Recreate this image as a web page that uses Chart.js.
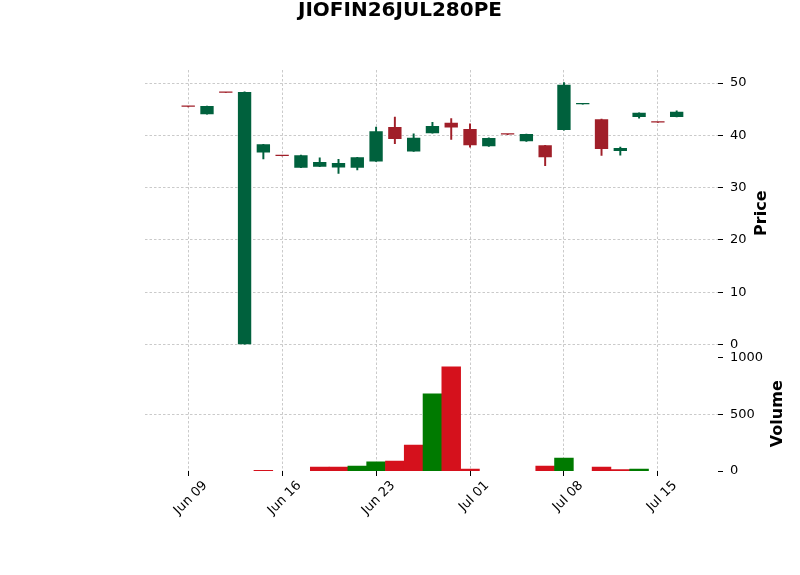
<!DOCTYPE html>
<html>
<head>
<meta charset="utf-8">
<script src="https://cdn.jsdelivr.net/npm/chart.js@4"></script>
<style>
  html, body { margin: 0; padding: 0; background: #fff; }
</style>
</head>
<body>
<canvas id="chart" width="800" height="575"></canvas>
<script>
const titleText = 'JIOFIN26JUL280PE';

// one row per trading day
const dates = ['Jun 09', 'Jun 10', 'Jun 11', 'Jun 12', 'Jun 13',
               'Jun 16', 'Jun 17', 'Jun 18', 'Jun 19', 'Jun 20',
               'Jun 23', 'Jun 24', 'Jun 25', 'Jun 26', 'Jun 27',
               'Jul 01', 'Jul 02', 'Jul 03', 'Jul 04', 'Jul 07',
               'Jul 08', 'Jul 09', 'Jul 10', 'Jul 11', 'Jul 14',
               'Jul 15', 'Jul 16'];
const opens  = [45.5, 44.05, 48.2, 0.05, 36.7, 36.1, 33.8, 34.0, 33.85, 33.8,
                35.0, 41.6, 36.9, 40.4, 42.4, 41.2, 37.9, 40.2, 38.85, 38.1,
                41.0, 45.95, 43.1, 37.0, 43.5, 42.5, 43.5];
const highs  = [45.5, 45.6, 48.2, 48.3, 38.3, 36.1, 36.2, 35.7, 35.4, 35.8,
                41.6, 43.5, 40.3, 42.5, 43.2, 42.2, 39.5, 40.2, 40.25, 38.1,
                50.1, 46.05, 43.1, 37.75, 44.3, 42.5, 44.7];
const lows   = [45.45, 44.05, 48.15, 0.05, 35.5, 36.05, 33.8, 34.0, 32.7, 33.4,
                35.0, 38.4, 36.9, 40.4, 39.2, 37.75, 37.9, 40.15, 38.85, 34.2,
                41.0, 45.95, 36.15, 36.2, 43.3, 42.45, 43.5];
const closes = [45.45, 45.6, 48.15, 48.3, 38.3, 36.05, 36.2, 34.9, 34.7, 35.8,
                40.8, 39.3, 39.55, 41.8, 41.5, 38.1, 39.5, 40.15, 40.25, 35.8,
                49.7, 46.05, 37.4, 37.56, 44.3, 42.45, 44.5];
const volumes = [0, 0, 0, 0, 6, 0, 0, 35, 35, 44,
                 80, 88, 230, 681, 920, 18, 0, 0, 0, 44,
                 115, 0, 35, 12, 18, 0, 0];
// 1 = up volume bar, -1 = down volume bar
const volDir = [1, 1, 1, 1, -1, -1, 1, -1, -1, 1,
                1, -1, -1, 1, -1, -1, 1, 1, 1, -1,
                1, 1, -1, -1, 1, -1, 1];

// tick positions
const dateTicks = [0, 5, 10, 15, 20, 25];
const priceTicks = [0, 10, 20, 30, 40, 50];
const volumeTicks = [0, 500, 1000];

const upColor = '#00613d';
const downColor = '#a01f29';
const volUpColor = '#007a00';
const volDownColor = '#d5111c';
const gridColor = '#bdbdbd';

const candleColors = opens.map((o, i) => closes[i] >= o ? upColor : downColor);

const bodies = dates.map((d, i) => ({x: i, y: [opens[i], closes[i]]}));
const wicks = dates.map((d, i) => ({x: i, y: [lows[i], highs[i]]}));
// days with no trades get no volume bar at all
const vols = dates.map((d, i) => ({x: i, y: volumes[i] > 0 ? volumes[i] : null}));

const panelText = {
    id: 'panelText',
    afterDraw(chart) {
        const {ctx, scales} = chart;
        ctx.save();
        ctx.fillStyle = '#000';
        ctx.textAlign = 'center';
        ctx.textBaseline = 'middle';
        ctx.font = 'bold 20px "DejaVu Sans"';
        ctx.fillText(titleText, 400, 11);
        ctx.font = 'bold 16px "DejaVu Sans"';
        [['Price', scales.y, 762], ['Volume', scales.yVol, 778]].forEach(([t, s, x]) => {
            ctx.save();
            ctx.translate(x, (s.top + s.bottom) / 2);
            ctx.rotate(-Math.PI / 2);
            ctx.fillText(t, 0, 0);
            ctx.restore();
        });
        ctx.restore();
    }
};

const setTicks = vals => s => { s.ticks = vals.map(v => ({value: v})); };
const tickFont = {family: 'DejaVu Sans', size: 13};
const yGrid = {color: gridColor, lineWidth: 0.8, tickColor: '#000', tickLength: 5, tickWidth: 1};

new Chart(document.getElementById('chart'), {
    type: 'bar',
    data: {
        datasets: [
            {
                label: 'body',
                data: bodies,
                backgroundColor: candleColors,
                yAxisID: 'y',
                grouped: false,
                barPercentage: 0.71,
                categoryPercentage: 1,
                minBarLength: 1.3,
            },
            {
                label: 'wick',
                data: wicks,
                backgroundColor: candleColors,
                yAxisID: 'y',
                grouped: false,
                barThickness: 1.3,
            },
            {
                label: 'Volume',
                data: vols,
                backgroundColor: volDir.map(v => v > 0 ? volUpColor : volDownColor),
                yAxisID: 'yVol',
                grouped: false,
                barPercentage: 1,
                categoryPercentage: 1,
            },
        ],
    },
    options: {
        responsive: false,
        animation: false,
        layout: {padding: {left: 145, top: 70, right: 0, bottom: 0}},
        plugins: {
            legend: {display: false},
            tooltip: {enabled: false},
            title: {display: false},
        },
        scales: {
            x: {
                type: 'linear',
                offset: false,
                min: -2.3,
                max: 28.2,
                grid: {color: gridColor, lineWidth: 0.8, tickColor: '#000', tickLength: 5, tickWidth: 1, offset: false},
                border: {display: false, dash: [2.5, 2]},
                afterBuildTicks: setTicks(dateTicks),
                ticks: {
                    minRotation: 45,
                    maxRotation: 45,
                    labelOffset: 17,
                    padding: 2,
                    color: '#000',
                    font: tickFont,
                    callback: v => dates[v],
                },
                afterFit: s => { s.height = 104; },
            },
            y: {
                position: 'right',
                stack: 'panels',
                stackWeight: 5,
                min: -2.3,
                max: 52.5,
                grid: yGrid,
                border: {display: false, dash: [2.5, 2]},
                afterBuildTicks: setTicks(priceTicks),
                ticks: {
                    padding: 7,
                    color: '#000',
                    font: tickFont,
                    callback: v => String(v),
                },
                afterFit: s => { s.width = 82; },
            },
            yVol: {
                position: 'right',
                stack: 'panels',
                stackWeight: 2,
                min: 0,
                max: 1012,
                // only the middle volume line shows; the edge ones sit on the panel borders
                grid: {...yGrid, color: c => (c.tick && c.tick.value === 500) ? gridColor : 'rgba(0,0,0,0)'},
                border: {display: false, dash: [2.5, 2]},
                afterBuildTicks: setTicks(volumeTicks),
                ticks: {
                    padding: 7,
                    color: '#000',
                    font: tickFont,
                    callback: v => String(v),
                },
                afterFit: s => { s.width = 82; },
            },
        },
    },
    plugins: [panelText],
});
</script>
</body>
</html>
